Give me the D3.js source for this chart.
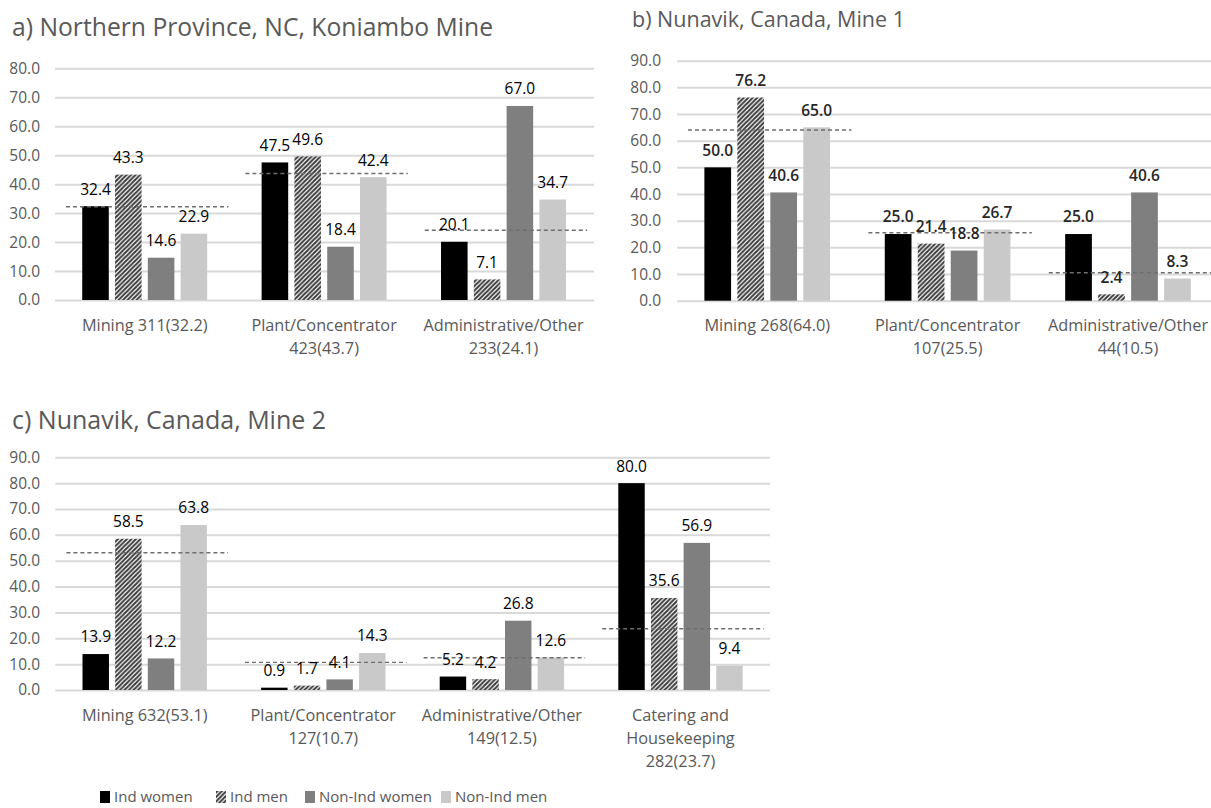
<!DOCTYPE html>
<html>
<head>
<meta charset="utf-8">
<script src="https://cdn.jsdelivr.net/npm/d3@7"></script>
<style>
  html, body { margin: 0; padding: 0; background: #ffffff; }
  svg { display: block; font-family: "Open Sans", sans-serif; }
</style>
</head>
<body>
<svg id="chart" width="1211" height="808"></svg>
<script>
// ---------- data ----------
const seriesNames = ["Ind women", "Ind men", "Non-Ind women", "Non-Ind men"];

// a) Northern Province, NC, Koniambo Mine
const titleA = "a) Northern Province, NC, Koniambo Mine";
const categoriesA = [["Mining 311(32.2)"], ["Plant/Concentrator", "423(43.7)"], ["Administrative/Other", "233(24.1)"]];
const shareA = [32.2, 43.7, 24.1];
const indWomenA = [32.4, 47.5, 20.1];
const indMenA = [43.3, 49.6, 7.1];
const nonIndWomenA = [14.6, 18.4, 67.0];
const nonIndMenA = [22.9, 42.4, 34.7];
const ticksA = [0, 10, 20, 30, 40, 50, 60, 70, 80];

// b) Nunavik, Canada, Mine 1
const titleB = "b) Nunavik, Canada, Mine 1";
const categoriesB = [["Mining 268(64.0)"], ["Plant/Concentrator", "107(25.5)"], ["Administrative/Other", "44(10.5)"]];
const shareB = [64.0, 25.5, 10.5];
const indWomenB = [50.0, 25.0, 25.0];
const indMenB = [76.2, 21.4, 2.4];
const nonIndWomenB = [40.6, 18.8, 40.6];
const nonIndMenB = [65.0, 26.7, 8.3];
const ticksB = [0, 10, 20, 30, 40, 50, 60, 70, 80, 90];

// c) Nunavik, Canada, Mine 2
const titleC = "c) Nunavik, Canada, Mine 2";
const categoriesC = [["Mining 632(53.1)"], ["Plant/Concentrator", "127(10.7)"], ["Administrative/Other", "149(12.5)"], ["Catering and", "Housekeeping", "282(23.7)"]];
const shareC = [53.1, 10.7, 12.5, 23.7];
const indWomenC = [13.9, 0.9, 5.2, 80.0];
const indMenC = [58.5, 1.7, 4.2, 35.6];
const nonIndWomenC = [12.2, 4.1, 26.8, 56.9];
const nonIndMenC = [63.8, 14.3, 12.6, 9.4];
const ticksC = [0, 10, 20, 30, 40, 50, 60, 70, 80, 90];

// ---------- styles ----------
const seriesFill = ["#000000", "url(#hatch)", "#7f7f7f", "#c9c9c9"];
const gridColor = "#d9d9d9";
const axisTextColor = "#595959";

const svg = d3.select("#chart");

// wide upward diagonal hatch
const defs = svg.append("defs");
const hatch = defs.append("pattern")
  .attr("id", "hatch")
  .attr("patternUnits", "userSpaceOnUse")
  .attr("width", 4.5).attr("height", 4.5);
hatch.append("rect").attr("width", 4.5).attr("height", 4.5).attr("fill", "#ffffff");
hatch.append("path")
  .attr("d", "M-1.125,1.125 l2.25,-2.25 M0,4.5 l4.5,-4.5 M3.375,5.625 l2.25,-2.25")
  .attr("stroke", "#3a3a3a").attr("stroke-width", 2);

function drawPanel(cfg) {
  const g = svg.append("g");
  const n = cfg.categories.length;

  const x = d3.scaleBand().domain(d3.range(n)).range([cfg.x0, cfg.x0 + cfg.step * n]);
  const xs = d3.scaleBand().domain(seriesNames).range([0, x.bandwidth()])
    .paddingInner(0.19).paddingOuter(0.83);
  const y = d3.scaleLinear().domain([0, cfg.yMax]).range([cfg.yZero, cfg.yTop]);

  // gridlines and tick labels
  const axis = d3.axisLeft(y)
    .tickValues(cfg.ticks)
    .tickFormat(d3.format(".1f"))
    .tickSizeInner(-(cfg.gridEnd - cfg.x0))
    .tickSizeOuter(0)
    .tickPadding(cfg.x0 - cfg.tickRight);
  const ax = g.append("g").attr("transform", `translate(${cfg.x0},0)`).call(axis);
  ax.select(".domain").remove();
  ax.selectAll(".tick line").attr("stroke", gridColor).attr("stroke-width", 2);
  ax.selectAll(".tick text")
    .attr("fill", axisTextColor)
    .style("font-family", '"Open Sans", sans-serif')
    .style("font-size", "15.5px");

  // bars
  const rows = cfg.series.map((vals, si) => vals.map((v, ci) => ({ s: seriesNames[si], si, ci, v })));
  const flat = rows.flat();
  g.selectAll("rect.bar").data(flat).join("rect")
    .attr("class", "bar")
    .attr("x", d => x(d.ci) + xs(d.s))
    .attr("width", xs.bandwidth())
    .attr("y", d => y(d.v))
    .attr("height", d => y(0) - y(d.v))
    .attr("fill", d => seriesFill[d.si]);

  // overall share of each category (dashed reference)
  g.selectAll("line.share").data(cfg.share).join("line")
    .attr("class", "share")
    .attr("x1", (d, i) => x(i) + 11)
    .attr("x2", (d, i) => x(i) + x.bandwidth() - 6)
    .attr("y1", d => y(d)).attr("y2", d => y(d))
    .attr("stroke", "#6e6e6e")
    .attr("stroke-width", 1.4)
    .attr("stroke-dasharray", "4,3");

  // value labels
  g.selectAll("text.val").data(flat).join("text")
    .attr("class", "val")
    .attr("x", d => x(d.ci) + xs(d.s) + xs.bandwidth() / 2)
    .attr("y", d => y(d.v) - 17)
    .attr("dy", "0.35em")
    .attr("text-anchor", "middle")
    .attr("fill", cfg.valueColor)
    .style("font-weight", cfg.valueWeight)
    .style("font-size", "15.5px")
    .text(d => d3.format(".1f")(d.v));

  // category labels
  const cl = g.selectAll("text.cat").data(cfg.categories).join("text")
    .attr("class", "cat")
    .attr("text-anchor", "middle")
    .attr("fill", axisTextColor)
    .style("font-size", "16.3px");
  cl.selectAll("tspan").data((d, i) => d.map(line => ({ line, i }))).join("tspan")
    .attr("x", d => x(d.i) + x.bandwidth() / 2)
    .attr("y", (d, k) => cfg.yZero + 25 + k * 23)
    .attr("dy", "0.35em")
    .text(d => d.line);

  // title
  g.append("text")
    .attr("x", cfg.titleX).attr("y", cfg.titleY)
    .attr("fill", axisTextColor)
    .style("font-size", cfg.titleSize + "px")
    .text(cfg.title);
}

drawPanel({
  title: titleA, categories: categoriesA, share: shareA,
  series: [indWomenA, indMenA, nonIndWomenA, nonIndMenA], ticks: ticksA, yMax: 80,
  x0: 55, step: 179.4, gridEnd: 594, yZero: 300, yTop: 68.3, tickRight: 40,
  titleX: 12, titleY: 36, titleSize: 24.7, valueColor: "#000000", valueWeight: 400
});

drawPanel({
  title: titleB, categories: categoriesB, share: shareB,
  series: [indWomenB, indMenB, nonIndWomenB, nonIndMenB], ticks: ticksB, yMax: 90,
  x0: 677, step: 180.4, gridEnd: 1211, yZero: 300.7, yTop: 60.7, tickRight: 661,
  titleX: 632, titleY: 27, titleSize: 21.5, valueColor: "#262626", valueWeight: 600
});

drawPanel({
  title: titleC, categories: categoriesC, share: shareC,
  series: [indWomenC, indMenC, nonIndWomenC, nonIndMenC], ticks: ticksC, yMax: 90,
  x0: 55.4, step: 178.6, gridEnd: 770, yZero: 690, yTop: 457.3, tickRight: 40,
  titleX: 12, titleY: 429, titleSize: 25, valueColor: "#000000", valueWeight: 400
});

// legend
const legendX = [100, 216, 305, 441];
const legend = svg.append("g").attr("transform", "translate(0,797)");
const li = legend.selectAll("g").data(seriesNames).join("g")
  .attr("transform", (d, i) => `translate(${legendX[i]},0)`);
li.append("rect")
  .attr("x", 0).attr("y", -6).attr("width", 10).attr("height", 12)
  .attr("fill", (d, i) => seriesFill[i]);
li.append("text")
  .attr("x", 14).attr("dy", "0.35em")
  .attr("fill", axisTextColor)
  .style("font-size", "15px")
  .text(d => d);
</script>
</body>
</html>
